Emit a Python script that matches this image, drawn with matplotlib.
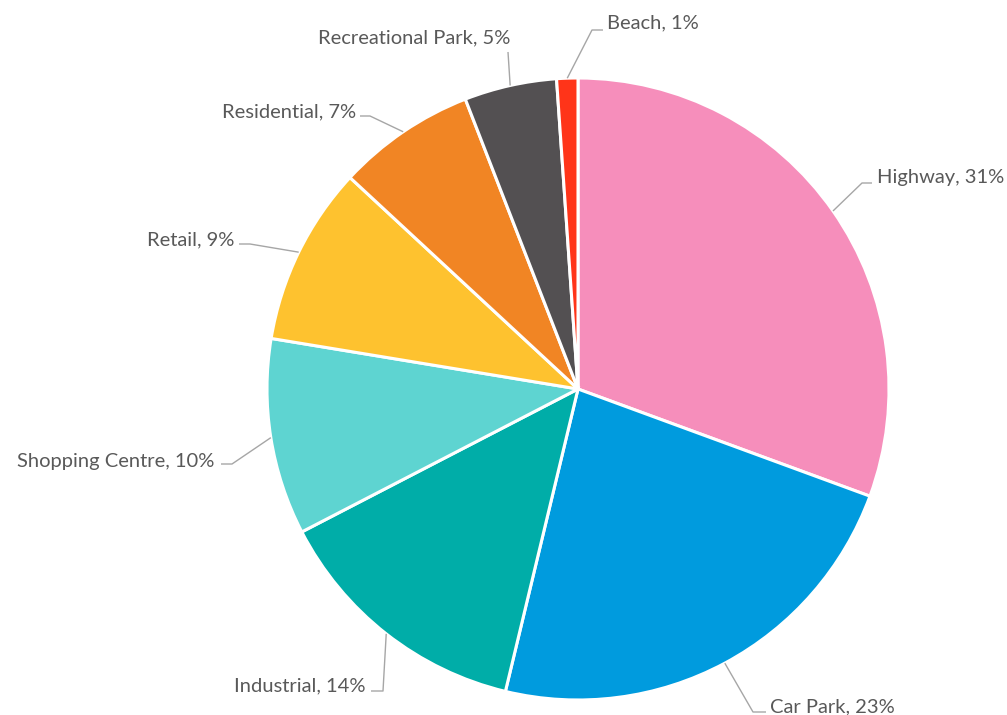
import matplotlib
matplotlib.use('Agg')
from matplotlib import pyplot as plt
import numpy as np

categories = ['Highway', 'Car Park', 'Industrial', 'Shopping Centre', 'Retail',
              'Residential', 'Recreational Park', 'Beach']
shares = [30.6, 23.15, 13.65, 10.2, 9.3, 7.2, 4.8, 1.1]
colors = ['#F68EBB', '#009BDE', '#00ADA8', '#5ED4D1', '#FEC22F',
          '#F18524', '#535052', '#FF3419']

# layout in pixel coords (y down): text position, alignment, elbow of leader, leader end
label_layout = {
    'Highway':           ((877, 178), 'left',   (862, 183), (872, 183)),
    'Car Park':          ((770, 707), 'left',   (753, 712), (766, 712)),
    'Industrial':        ((366, 686), 'right',  (383, 691), (371, 691)),
    'Shopping Centre':   ((214, 461), 'right',  (232, 464), (221, 464)),
    'Retail':            ((234, 240), 'right',  (250, 244), (239, 244)),
    'Residential':       ((356, 112), 'right',  (370, 116), (360, 116)),
    'Recreational Park': ((414, 38),  'center', (508, 52),  (508, 52)),
    'Beach':             ((607, 23),  'left',   (592, 30),  (603, 30)),
}

cx, cy, r = 578, 389, 311

plt.rcParams['font.family'] = ['Lato', 'DejaVu Sans']
fig = plt.figure(figsize=(10.07, 7.15), dpi=100)
ax = fig.add_axes([0, 0, 1, 1])

# y axis is inverted so counterclock in data space is clockwise on screen
ax.pie(shares, colors=colors, startangle=-90, counterclock=True,
       radius=r, center=(cx, cy), frame=True,
       wedgeprops=dict(edgecolor='white', linewidth=2.2))
ax.set_xlim(0, 1007)
ax.set_ylim(715, 0)
ax.set_aspect('equal')
ax.axis('off')

#labels with leader lines from the middle of each wedge
cum = np.cumsum([0] + shares[:-1])
total = float(sum(shares))
for name, s, c0 in zip(categories, shares, cum):
    ang = np.deg2rad(-90 + (c0 + s / 2.0) / total * 360)
    ex, ey = cx + r * np.cos(ang), cy + r * np.sin(ang)
    (tx, ty), ha, elbow, end = label_layout[name]
    ax.plot([ex, elbow[0], end[0]], [ey, elbow[1], end[1]],
            color='#A6A6A6', lw=1, solid_capstyle='butt')
    ax.text(tx, ty, '%s, %d%%' % (name, round(s / total * 100)), ha=ha, va='center',
            fontsize=14.5, color='#595959')

plt.savefig('out.png', dpi=100)
